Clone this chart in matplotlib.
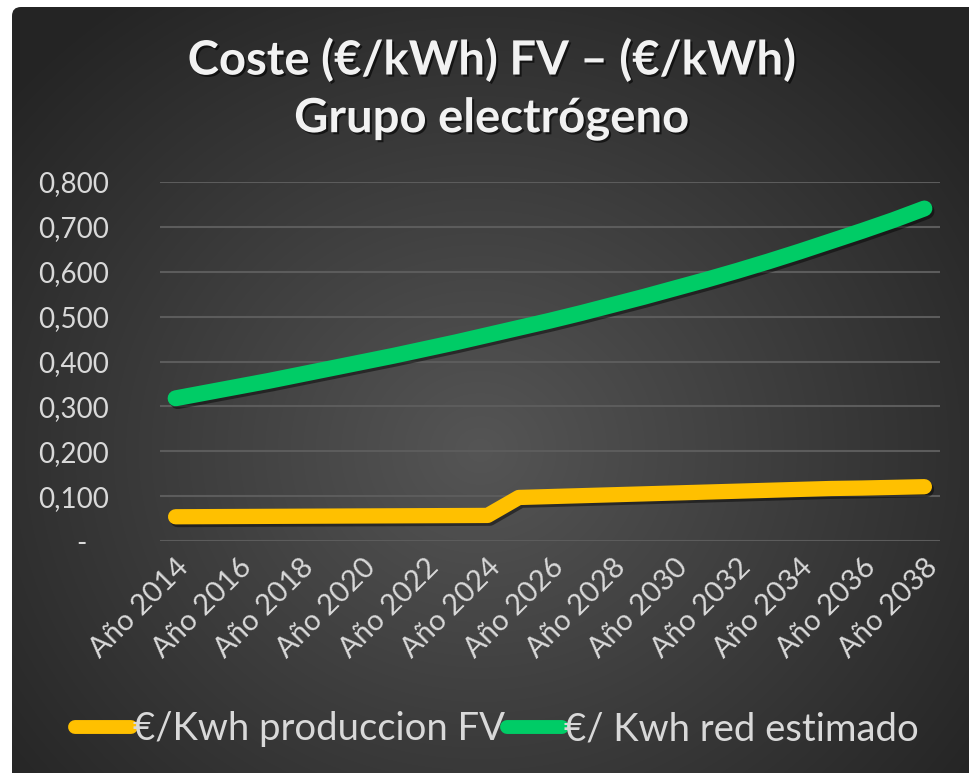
import numpy as np
import matplotlib
matplotlib.use("Agg")
import matplotlib.pyplot as plt
from matplotlib.patches import FancyBboxPatch
from matplotlib.lines import Line2D
import matplotlib.patheffects as pe

years = list(range(2014, 2039))
categories = [f"Año {y}" for y in years]
fv_cost = [0.054, 0.0543, 0.0546, 0.0549, 0.0552, 0.0555, 0.0558, 0.0561, 0.0564, 0.0567, 0.057,
           0.097, 0.099, 0.101, 0.103, 0.105, 0.107, 0.109, 0.111, 0.113, 0.115, 0.117, 0.118, 0.1195, 0.121]
red_cost = [0.318, 0.331, 0.344, 0.357, 0.371, 0.385, 0.399, 0.413, 0.428, 0.443, 0.459, 0.475, 0.491,
            0.508, 0.526, 0.544, 0.563, 0.582, 0.602, 0.623, 0.645, 0.668, 0.691, 0.715, 0.741]
series_names = ["€/Kwh produccion FV", "€/ Kwh red estimado"]
ytick_vals = [0.0, 0.1, 0.2, 0.3, 0.4, 0.5, 0.6, 0.7, 0.8]
ytick_labels = ["-   ", "0,100", "0,200", "0,300", "0,400", "0,500", "0,600", "0,700", "0,800"]
title_text = "Coste (€/kWh) FV – (€/kWh)\nGrupo electrógeno"

FONT = ["Lato", "DejaVu Sans"]
plt.rcParams['font.family'] = FONT
TXT = "#d9d9d9"
YELLOW = "#ffc000"
GREEN = "#00cc66"

W, H = 969, 773
fig = plt.figure(figsize=(W / 100, H / 100), dpi=100, facecolor="white")

# background panel with radial gradient
bg = fig.add_axes([0, 0, 1, 1])
bg.set_xlim(0, W)
bg.set_ylim(H, 0)
bg.axis("off")
yy, xx = np.mgrid[0:H, 0:W]
cx, cy = 480, 450
d = np.sqrt(((xx - cx) / 620.0) ** 2 + ((yy - cy) / 560.0) ** 2)
d = np.clip(d, 0, 1)
c0 = np.array([0x55, 0x55, 0x55]) / 255.0
c1 = np.array([0x24, 0x24, 0x24]) / 255.0
img = c0[None, None, :] * (1 - d[..., None]) + c1[None, None, :] * d[..., None]
im = bg.imshow(img, extent=[0, W, H, 0], aspect="auto", interpolation="bilinear", zorder=0)
panel = FancyBboxPatch((12, 7), W + 30, H + 30, boxstyle="round,pad=0,rounding_size=9",
                       transform=bg.transData, facecolor="none", edgecolor="none")
bg.add_patch(panel)
im.set_clip_path(panel)

# main axes
L, R, T, B = 160, 940, 182, 541
ax = fig.add_axes([L / W, (H - B) / H, (R - L) / W, (B - T) / H])
ax.set_facecolor("none")
x = np.arange(len(years))
ax.set_xlim(-0.5, len(years) - 0.5)
ax.set_ylim(0, 0.8)
for s in ax.spines.values():
    s.set_visible(False)
ax.set_yticks(ytick_vals)
ax.set_yticklabels(ytick_labels)
ax.yaxis.grid(True, color="#5c5c5c", linewidth=1.5)
ax.set_axisbelow(True)
ax.tick_params(axis="y", length=0, pad=37, labelsize=20, labelcolor=TXT)
ax.set_xticks(x[::2])
ax.set_xticklabels(categories[::2], rotation=45, ha="right", rotation_mode="anchor")
ax.tick_params(axis="x", length=0, pad=9, labelsize=21, labelcolor=TXT)

shadow = [pe.SimpleLineShadow(offset=(1.5, -2.0), shadow_color="black", alpha=0.45), pe.Normal()]
ax.plot(x, fv_cost, color=YELLOW, lw=11, solid_capstyle="round", solid_joinstyle="round",
        path_effects=shadow, zorder=3)
ax.plot(x, red_cost, color=GREEN, lw=11.5, solid_capstyle="round", solid_joinstyle="round",
        path_effects=shadow, zorder=3)

# title
fig.text(492 / W, 1 - 89 / H, title_text, ha="center", va="center", fontsize=34,
         fontweight="bold", color="#f2f2f2", linespacing=1.38,
         path_effects=[pe.withSimplePatchShadow(offset=(1.5, -1.5), shadow_rgbFace="black", alpha=0.6)])

# legend
handles = [Line2D([0], [0], color=YELLOW, lw=10, solid_capstyle="round"),
           Line2D([0], [0], color=GREEN, lw=10, solid_capstyle="round")]
fig.legend(handles, series_names, loc="center", bbox_to_anchor=(497 / W, 1 - 729 / H), ncol=2,
           frameon=False, fontsize=27.5, labelcolor=TXT, handlelength=1.45, handletextpad=0.05,
           columnspacing=0.05)

fig.savefig("out.png", dpi=100, facecolor="white")
